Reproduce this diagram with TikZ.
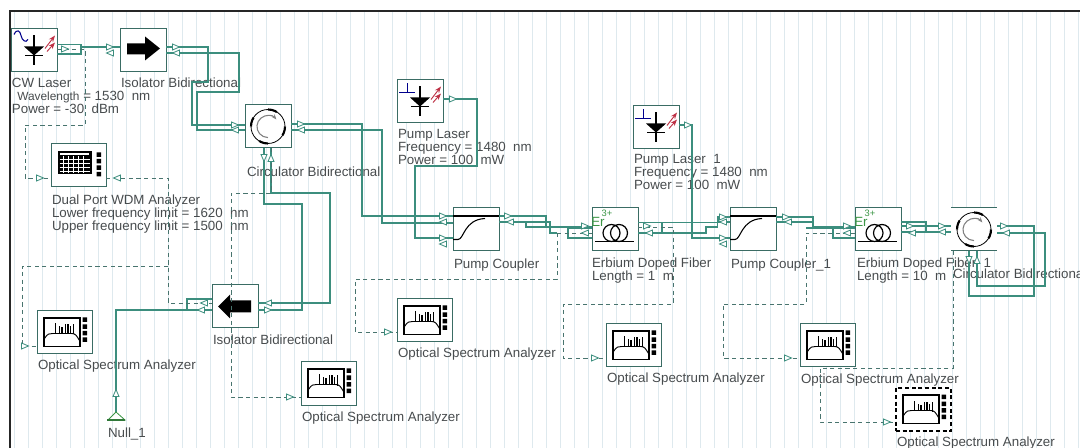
\documentclass[tikz,border=0pt]{standalone}
\usepackage{fontspec}
\setmainfont{Liberation Sans}
\usepackage{xcolor}
\usetikzlibrary{arrows.meta,positioning}
\definecolor{WireTeal}{RGB}{60,142,126}
\definecolor{BoxTeal}{RGB}{58,108,100}
\definecolor{DashTeal}{RGB}{72,116,110}
\definecolor{GridBlue}{RGB}{222,233,238}
\definecolor{LabelGray}{RGB}{72,76,78}
\definecolor{ErGreen}{RGB}{60,150,70}
\definecolor{BeamRed}{RGB}{190,50,70}

\tikzset{
  dy/.style={shift={(0,#1)}},
  dx/.style={shift={(#1,0)}},
  portr/.pic={\draw[WireTeal, fill=white, line width=.6pt] (-3.5,-3) -- (3.5,0) -- (-3.5,3) -- cycle;},
  analyzericon/.pic={
    \draw[black, fill=white, line width=1.3pt] (-20.5,-14.5) rectangle (15.5,14);
    \draw[black, line width=.7pt] (-20,6) .. controls (-17,1) and (-15,1) .. (-12,1) -- (7,1) .. controls (11,1) and (12,3) .. (15,8);
    \draw[black, line width=1pt] (-9,1) -- (-9,-9) (-5,1) -- (-5,-6) (-2.5,1) -- (-2.5,-5) (1,1) -- (1,-8) (3.5,1) -- (3.5,-8) (6,1) -- (6,-6) (9,2) -- (9,-8);
    \fill[black] (18,-15) rectangle (22.5,-10.5) (18,-8) rectangle (22.5,-3.5) (18,-1.5) rectangle (22.5,3) (18,5) rectangle (22.5,9.5);
  },
  wdmicon/.pic={
    \fill[black] (-21,-14) rectangle (13,9);
    \fill[white] (-18.5,-12) rectangle (10.5,-10);
    \draw[white, line width=.35pt] (-19,-6) -- (11,-6) (-19,-2) -- (11,-2) (-19,2) -- (11,2) (-19,6) -- (11,6);
    \draw[white, line width=.35pt] (-15,-9) -- (-15,8) (-10,-9) -- (-10,8) (-5,-9) -- (-5,8) (0,-9) -- (0,8) (5,-9) -- (5,8);
    \fill[black] (18,-13) rectangle (22.5,-8.5) (18,-6.5) rectangle (22.5,-2) (18,0) rectangle (22.5,4.5) (18,6.5) rectangle (22.5,11);
  },
  diodeicon/.pic={
    \draw[black, line width=.9pt] (0,-15) -- (0,15) (-9,5) -- (9,5);
    \fill[black] (-10,-4) -- (10,-4) -- (0,5) -- cycle;
    \draw[BeamRed, line width=.7pt, -{Stealth[length=5pt,open]}] (11,-2) -- (21,-15);
    \draw[BeamRed, line width=.7pt, -{Stealth[length=5pt,open]}] (13,1) -- (21,-8);
  },
  cwsine/.pic={\draw[blue!55!black, line width=.8pt] (-20,-16) .. controls (-17,-22) and (-14,-20) .. (-13,-15) .. controls (-12,-10) and (-8,-7) .. (-6,-11);},
  pumpt/.pic={\draw[blue!55!black, line width=.7pt] (-21,-9) -- (-5,-9) (-13,-9) -- (-13,-18);},
  isoright/.pic={\fill[black] (-16,-7) -- (2,-7) -- (2,-14) -- (17,-2) -- (2,10) -- (2,4) -- (-16,4) -- cycle;},
  isoleft/.pic={\fill[black] (16,-6) -- (-5,-6) -- (-5,-12) -- (-17,0) -- (-5,12) -- (-5,6) -- (16,6) -- cycle;},
  circicon/.pic={
    \draw[black, fill=white, line width=.6pt] (0,0) circle (17);
    \draw[black, line width=1.6pt, dash pattern=on 7pt off 13pt] (0,0) circle (17);
    \draw[gray, line width=.8pt, {Stealth[length=4pt]}-] (8.4,-7) arc[start angle=-40, end angle=-270, radius=11];
  },
  couplericon/.pic={
    \draw[black, line width=1.5pt] (-23,-13.5) -- (23,-13.5);
    \draw[black, line width=.8pt] (-23,10) -- (-18,10) .. controls (-12,10) and (-12,-10) .. (9,-11);
  },
  edficon/.pic={
    \node[font=\fontsize{10}{10}\selectfont\rmfamily, text=ErGreen, inner sep=0pt] (-er) at (-17,-8) {Er};
    \node[font=\fontsize{7}{7}\selectfont\rmfamily, text=ErGreen, inner sep=0pt] (-ion) at (-8,-16) {3+};
    \draw[black, line width=.9pt] (-3.5,3.5) circle (8.5) (4,3.5) circle (8.5);
    \draw[black, line width=1.4pt] (-20,12) -- (19,12);
  }
}

\begin{document}
\begin{tikzpicture}[
  x=.75pt, y=-.75pt,
  block/.style={draw=BoxTeal, fill=white, line width=.75pt, inner sep=0pt, outer sep=0pt, minimum width=34.5pt, minimum height=32.25pt},
  analyzer/.style={block, minimum width=41.25pt},
  lbl/.style={inner sep=0pt, outer sep=0pt, yshift=-1pt, align=left, text=LabelGray, font=\fontsize{10}{9.75}\selectfont},
  wire/.style={draw=WireTeal, line width=.8pt},
  dwire/.style={draw=DashTeal, line width=.72pt, dash pattern=on 3.2pt off 2.5pt}
]
\clip (0,0) rectangle (1080,448);
\fill[white] (0,0) rectangle (1080,448);
\draw[GridBlue, line width=.5pt, step=14] (10,11) grid (1080,448);
\draw[black!85, line width=1pt] (1080,11) -- (10,11) -- (10,448);

% devices
\node[block] (cw) at (34,50.5) {};
\node[block, right=47.25pt of cw] (iso1) {};
\node[block, below right=24.75pt and 59.25pt of iso1] (circ1) {};
\node[analyzer, below right=54pt and -4.5pt of cw] (wdm) {};
\node[block, below right=73.5pt and 79.5pt of wdm] (iso2) {};
\node[analyzer, below right=93pt and -51.75pt of wdm] (osa1) {};
\node[analyzer, below right=25.5pt and 32.25pt of iso2] (osa2) {};
\node[block, below right=45pt and 121.5pt of circ1] (pc) {};
\node[block, above left=63.75pt and 7.5pt of pc] (pl) {};
\node[block, right=69.75pt of pc] (edf1) {};
\node[block, above right=44.25pt and -3.75pt of edf1] (pl1) {};
\node[block, right=69pt of edf1] (pc1) {};
\node[block, right=59.25pt of pc1] (edf2) {};
\node[block, draw=none, right=37.5pt of edf2] (circ2) {};
\node[analyzer, below left=36pt and .75pt of pc] (osa3) {};
\node[analyzer, below right=54.75pt and -24pt of edf1] (osa4) {};
\node[analyzer, below right=54.75pt and 18pt of pc1] (osa5) {};
\node[analyzer, draw=black, line width=1.2pt, densely dashed, below right=15.75pt and 30.75pt of osa5] (osa6) {};
\coordinate (null) at ([shift={(79,58)}]osa1.south west);
\draw[BoxTeal, line width=.75pt] (circ2.north west) -- (circ2.north east) (circ2.south west) -- (circ2.south east);

% icons
\pic at (cw) {diodeicon};
\pic at (cw) {cwsine};
\pic at (pl) {diodeicon};
\pic at (pl) {pumpt};
\pic at (pl1) {diodeicon};
\pic at (pl1) {pumpt};
\pic at (iso1) {isoright};
\pic at (iso2) {isoleft};
\pic at (circ1) {circicon};
\pic at (circ2) {circicon};
\pic at (pc) {couplericon};
\pic at (pc1) {couplericon};
\pic (edf1icon) at (edf1) {edficon};
\pic (edf2icon) at (edf2) {edficon};
\pic at (wdm) {wdmicon};
\pic at (osa1) {analyzericon};
\pic at (osa2) {analyzericon};
\pic at (osa3) {analyzericon};
\pic at (osa4) {analyzericon};
\pic at (osa5) {analyzericon};
\pic at (osa6) {analyzericon};

% labels
\node[lbl, below right=4pt and .75pt of cw.south west] (cwtxt) {CW Laser\\\hspace*{4pt}{\fontsize{8.9}{9.75}\selectfont Wavelength} = 1530\ \ nm\\Power = -30\ \ dBm};
\node[lbl, below right=3.3pt and .75pt of iso1.south west] (iso1txt) {Isolator Bidirectional};
\node[lbl, below right=13pt and 1.5pt of circ1.south west] (circ1txt) {Circulator Bidirectional};
\node[lbl, below right=4.8pt and .75pt of wdm.south west] (wdmtxt) {Dual Port WDM Analyzer\\Lower frequency limit = 1620\ \ nm\\Upper frequency limit = 1500\ \ nm};
\node[lbl, below right=4pt and .75pt of iso2.south west] (iso2txt) {Isolator Bidirectional};
\node[lbl, below right=3.3pt and .75pt of osa1.south west] (osa1txt) {Optical Spectrum Analyzer};
\node[lbl, below right=4pt and .75pt of osa2.south west] (osa2txt) {Optical Spectrum Analyzer};
\node[lbl, below right=10.8pt and -6pt of null] (nulltxt) {Null\_1};
\node[lbl, below right=4pt and .75pt of pl.south west] (pltxt) {Pump Laser\\Frequency = 1480\ \ nm\\Power = 100\ \ mW};
\node[lbl, below right=4.8pt and .75pt of pc.south west] (pctxt) {Pump Coupler};
\node[lbl, below right=4pt and 0pt of edf1.south west] (edf1txt) {Erbium Doped Fiber\\Length = 1\ \ m};
\node[lbl, below right=3.3pt and .75pt of pl1.south west] (pl1txt) {Pump Laser\ \ 1\\Frequency = 1480\ \ nm\\Power = 100\ \ mW};
\node[lbl, below right=4.8pt and .75pt of pc1.south west] (pc1txt) {Pump Coupler\_1};
\node[lbl, below right=4pt and 1.5pt of edf2.south west] (edf2txt) {Erbium Doped Fiber\ \ 1\\Length = 10\ \ m};
\node[lbl, below right=12.3pt and 1.5pt of circ2.south west] (circ2txt) {Circulator Bidirectional};
\node[lbl, below right=3.3pt and .75pt of osa3.south west] (osa3txt) {Optical Spectrum Analyzer};
\node[lbl, below right=3.3pt and .75pt of osa4.south west] (osa4txt) {Optical Spectrum Analyzer};
\node[lbl, below right=4pt and .75pt of osa5.south west] (osa5txt) {Optical Spectrum Analyzer};
\node[lbl, below right=3.3pt and .75pt of osa6.south west] (osa6txt) {Optical Spectrum Analyzer};

% solid links
\draw[wire] ([dy=-6]cw.east) -| (81,47);
\draw[wire] ([dy=3.5]cw.east) -| (81,47) -- ([dy=-3.5]iso1.west);
\draw[wire] ([dy=-3.5]iso1.east) -| (208,82) -| (192,125) -- ([dy=-1.5]circ1.west);
\draw[wire] ([dy=2.5]iso1.east) -| (239,92) -| (197,130) -- ([dy=3.5]circ1.west);
\draw[wire] ([dy=-2.5]circ1.east) -| (362,216) -- ([dy=-13.5]pc.west);
\draw[wire] ([dy=3.5]circ1.east) -| (382,223) -- ([dy=-6.5]pc.west);
\draw[wire] ([dy=-2.5]pl.east) -| (477,166) -| (415,238) -- ([dy=8.5]pc.west);
\draw[wire] ([dx=-4]circ1.south) |- (302,204) |- ([dy=3.5]iso2.east);
\draw[wire] ([dx=3]circ1.south) |- (330,193) |- ([dy=-3.5]iso2.east);
\draw[wire] ([dy=-7.5]iso2.west) -| (187,310);
\draw[wire] ([dy=3.5]iso2.west) -| (null);
\draw[wire] ([dy=-13.5]pc.east) -| (546,227) -- ([dy=-2.5]edf1.west);
\coordinate (pcfork) at (557,233);
\coordinate (pcstub) at (526,222);
\draw[wire] ([dy=-7.5]pc.east) -| (550,233) -- (pcfork);
\draw[wire] (pcstub) |- (546,227);
\draw[wire] ([dy=-1.5]edf1.west) -| (568,238) -- ([dy=8.5]edf1.west);
\draw[wire] ([dy=-7]edf1.east) -| (718,217) -- ([dy=-12.5]pc1.west);
\draw[wire] ([dy=3.5]edf1.east) -| (706,227) -| (717.5,222) -- ([dy=-7.5]pc1.west);
\coordinate (edf1stub) at (662,222.5);
\draw[wire] (edf1stub) -- (662,233);
\draw[wire] ([dy=-2.5]pl1.east) -| (692,238) -- ([dy=8.5]pc1.west);
\draw[wire] ([dy=-12.5]pc1.east) -| (813,227) -- ([dy=-2.5]edf2.west);
\coordinate (pc1mid) at (813,222);
\draw[wire] ([dy=-7.5]pc1.east) -- (pc1mid);
\coordinate (edf2tap) at (806,228);
\draw[wire] (edf2tap) -- ([dy=-1.5]edf2.west);
\draw[wire] ([dy=-1.5]edf2.west) -| (833,238) -- ([dy=8.5]edf2.west);
\draw[wire] ([dy=-3.5]edf2.east) -- ([dy=-3.5]circ2.west);
\draw[wire] ([dy=2.5]edf2.east) -- ([dy=2.5]circ2.west);
\draw[wire] ([dy=-7.5]edf2.east) -| (926,232);
\draw[wire] ([dy=-3.5]circ2.east) -| (1034,296) -| ([dx=-5]circ2.south);
\draw[wire] ([dy=3.5]circ2.east) -| (1045,286) -| ([dx=3]circ2.south);

% dashed links
\coordinate (wdmtap) at (168,266);
\draw[dwire] ([dy=-1.5]cw.east) -| (85,125) -| (25,178) -- ([dy=12.5]wdm.west);
\draw[dwire] ([dy=12.5]wdm.east) -| (168,303) -- ([dy=-3.5]iso2.west);
\draw[dwire] (wdmtap) -| (22,346) -- ([dy=13.5]osa1.west);
\draw[dwire] ([dx=3]circ1.south) |- (231,193) |- ([dy=13.5]osa2.west);
\draw[dwire] (pcfork) -- ([dy=3.5]edf1.west);
\draw[dwire] (pcfork) |- (355,279) |- ([dy=11.5]osa3.west);
\draw[dwire] ([dy=-2.5]edf1.east) -| (673,304) -| (563,358) -- ([dy=12.5]osa4.west);
\draw[dwire] ([dy=3.5]edf2.west) -| (806,304) -| (723,358) -- ([dy=12.5]osa5.west);
\draw[dwire] ([dx=-21]circ2.south) |- (820,368) |- ([dy=12.5]osa6.west);

% ports
\foreach \px/\py in {65/49,110/47,176/47,235/125,301/124,40/178,443/216,443/238,453/99,508/216,585/226,647/226,723/217,723/238,688/125,786/217,847/226,910/226,942/226,1004/226,290/397,388/332,595/358,788/358,887/422,25/346,268/310}
  \pic at (\px,\py) {portr};
\foreach \px/\py in {110/53,176/53,235/130,301/130,117/178,443/222,443/244,510/222,585/233,649/233,723/222,723/244,788/222,847/233,912/233,942/232,1006/233,268/303,204/303,201/310}
  \pic[rotate=180] at (\px,\py) {portr};
\pic[rotate=-90] at (264,158) {portr};
\pic[rotate=90] at (271,158) {portr};
\pic[rotate=-90] at (969,260) {portr};
\pic[rotate=90] at (977,260) {portr};
\pic[rotate=90] at (116,393) {portr};

% null terminator
\draw[ErGreen, fill=white, line width=.6pt] (null) -- (108,420) -- (125,420) -- cycle;
\draw[ErGreen!80!black, line width=1.2pt] (107,420) -- (125,420);
\end{tikzpicture}
\end{document}
